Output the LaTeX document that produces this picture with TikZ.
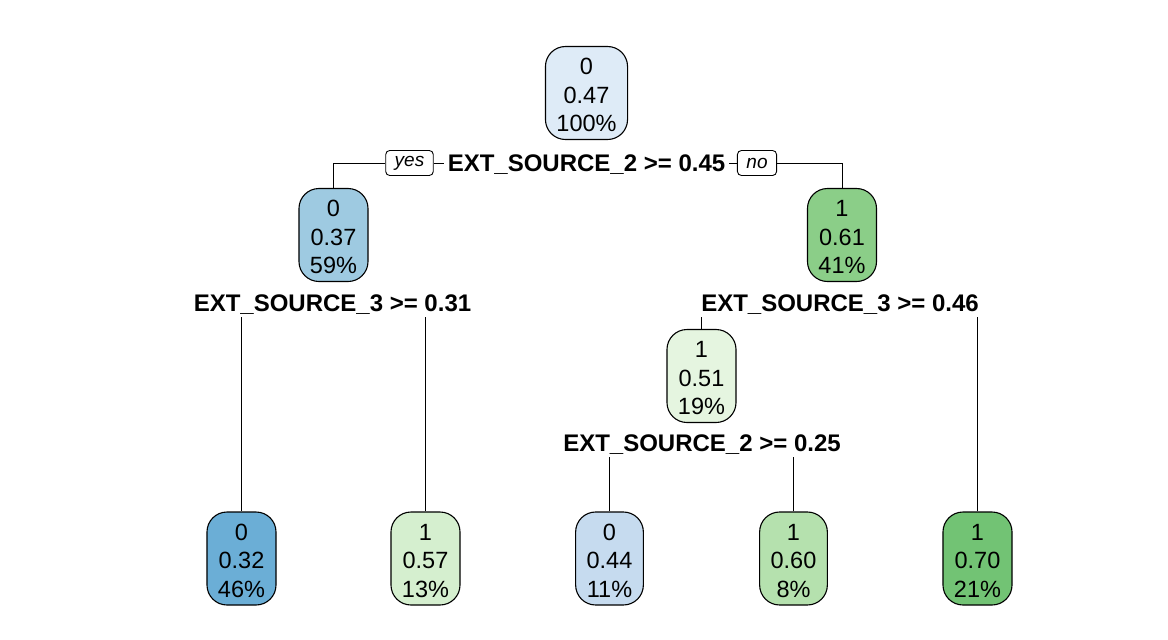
\documentclass[tikz,border=0pt]{standalone}
\usepackage{fontspec}
\setmainfont{Liberation Sans}
\definecolor{bA}{HTML}{DEEBF7}
\definecolor{bB}{HTML}{9ECAE1}
\definecolor{bC}{HTML}{6BAED6}
\definecolor{bD}{HTML}{C6DBEF}
\definecolor{gA}{HTML}{E5F5E0}
\definecolor{gB}{HTML}{D5EFCF}
\definecolor{gC}{HTML}{B5E1AE}
\definecolor{gD}{HTML}{8BCE88}
\definecolor{gE}{HTML}{72C374}
\newcommand{\topstrut}{\rule{0pt}{21pt}}
\begin{document}
\begin{tikzpicture}[x=1pt,y=-1pt,
  treebox/.style={draw, line width=1.1pt, rounded corners=20pt, align=center,
    minimum height=93pt, inner xsep=11pt, inner ysep=0pt,
    font=\fontsize{23.5}{28.5}\selectfont},
  splitlabel/.style={inner xsep=4pt, inner ysep=0pt, text height=22.4pt, text depth=5.6pt,
    font=\fontsize{24}{28}\selectfont\bfseries},
  yesno/.style={draw, line width=0.9pt, rounded corners=4pt, minimum height=25pt,
    inner xsep=9pt, inner ysep=0pt, font=\fontsize{19}{22}\selectfont\itshape},
  branch/.style={line width=0.9pt}]
\useasboundingbox (0,0) rectangle (1168,640);
% interior nodes
\node[treebox, fill=bA] (root) at (586.5,93) {\topstrut 0\\0.47\\100\%};
\node[treebox, fill=bB] (n2) at (333.5,235) {\topstrut 0\\0.37\\59\%};
\node[treebox, fill=gD] (n3) at (842,235) {\topstrut 1\\0.61\\41\%};
\node[treebox, fill=gA] (n6) at (701.5,376) {\topstrut 1\\0.51\\19\%};
% leaves
\node[treebox, fill=bC] (l1) at (241.5,558.5) {\topstrut 0\\0.32\\46\%};
\node[treebox, fill=gB] (l2) at (425.5,558.5) {\topstrut 1\\0.57\\13\%};
\node[treebox, fill=bD] (l3) at (609.5,558.5) {\topstrut 0\\0.44\\11\%};
\node[treebox, fill=gC] (l4) at (793.5,558.5) {\topstrut 1\\0.60\\8\%};
\node[treebox, fill=gE] (l5) at (977.5,558.5) {\topstrut 1\\0.70\\21\%};
% split labels
\node[splitlabel] (s1) at (586.5,163) {EXT\_SOURCE\_2 >= 0.45};
\node[splitlabel] (s2) at (332.5,303) {EXT\_SOURCE\_3 >= 0.31};
\node[splitlabel] (s3) at (840,303) {EXT\_SOURCE\_3 >= 0.46};
\node[splitlabel] (s4) at (702,443) {EXT\_SOURCE\_2 >= 0.25};
% yes / no
\node[yesno] (yes) at (409.5,163) {yes};
\node[yesno] (no) at (757,163) {no};
% connectors
\draw[branch] (n2.north) |- (yes.west);
\draw[branch] (yes.east) -- (s1.west);
\draw[branch] (s1.east) -- (no.west);
\draw[branch] (no.east) -| (n3.north);
\draw[branch] (l1.north) -- (l1.north |- s2.south);
\draw[branch] (l2.north) -- (l2.north |- s2.south);
\draw[branch] (n6.north) -- (n6.north |- s3.south);
\draw[branch] (l5.north) -- (l5.north |- s3.south);
\draw[branch] (l3.north) -- (l3.north |- s4.south);
\draw[branch] (l4.north) -- (l4.north |- s4.south);
\end{tikzpicture}
\end{document}
